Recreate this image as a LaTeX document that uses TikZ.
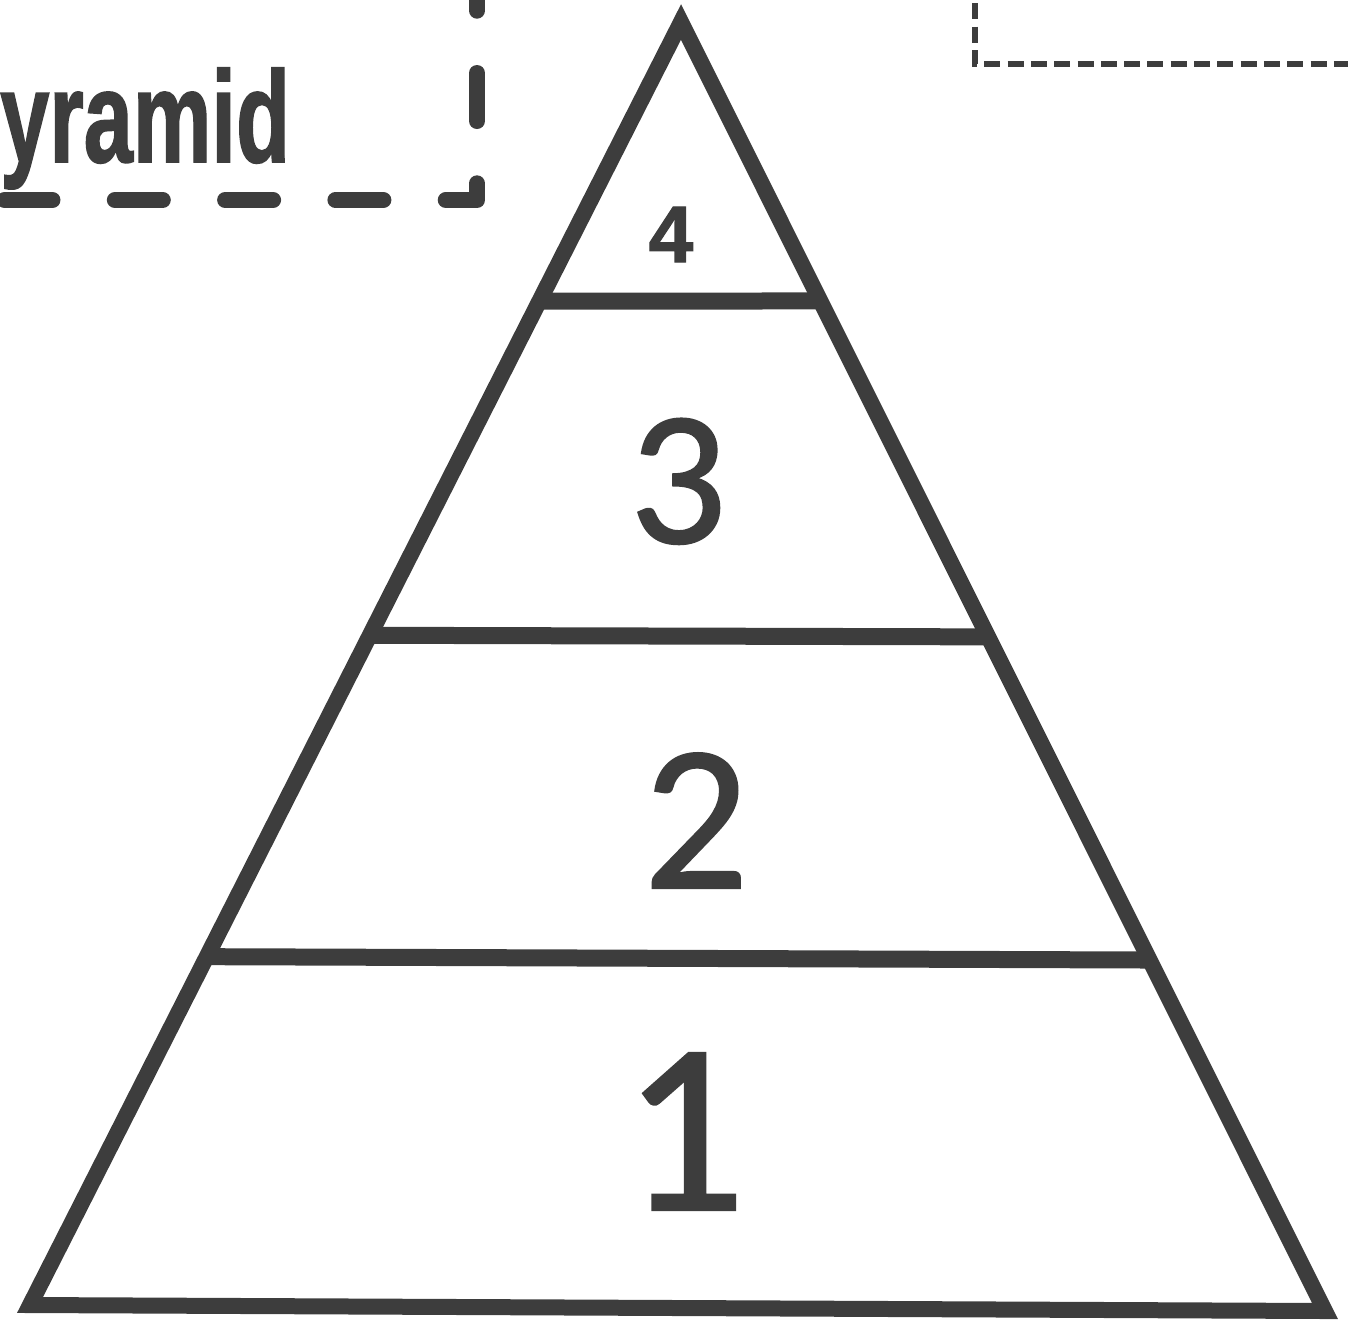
\documentclass[tikz,border=0pt]{standalone}
\usepackage{fontspec}
\setmainfont{Carlito}
\newfontfamily\titlefont{Liberation Sans}[FakeBold=1.5]
\usetikzlibrary{calc}
\definecolor{ink}{RGB}{61,61,61}

\begin{document}
\begin{tikzpicture}[
  x=1pt, y=-1pt,
  tier/.style={draw=ink, line width=16pt, line join=miter},
  divider/.style={draw=ink, line width=17pt},
  level/.style={text=ink, inner sep=0pt, anchor=base},
  titlebox/.style={draw=ink, line width=16pt, line cap=round, line join=round,
                   dash pattern=on 48pt off 62.3pt, dash phase=75.8pt},
  notebox/.style={draw=ink, line width=6pt, dash pattern=on 16pt off 7.3pt,
                  dash phase=9.9pt},
]
  \useasboundingbox (0,0) rectangle (1348,1326);
  \clip (0,0) rectangle (1348,1326);

  \coordinate (apex) at (681,22);
  \coordinate (left) at (30,1305);
  \coordinate (right) at (1325,1311);

  \draw[tier] (apex) -- (left) -- (right) -- cycle;
  \draw[divider] ($(apex)!0.2176!(left)$) -- ($(apex)!0.2164!(right)$);
  \draw[divider] ($(apex)!0.478!(left)$) -- ($(apex)!0.477!(right)$);
  \draw[divider] ($(apex)!0.7285!(left)$) -- ($(apex)!0.7277!(right)$);

  \node[level, font=\titlefont\bfseries\fontsize{80}{80}\selectfont] (tierfour) at (671,262) {4};
  \node[level, font=\fontsize{192}{192}\selectfont\addfontfeature{FakeBold=1}] (tierthree) at (678,543) {3};
  \node[level, font=\fontsize{208}{208}\selectfont\addfontfeature{FakeBold=1}] (tiertwo) at (696,888) {2};
  \node[level, font=\fontsize{244}{244}\selectfont\addfontfeature{FakeBold=1}] (tierone) at (684,1210) {1};

  \node[text=ink, inner sep=0pt, anchor=base west,
        font=\titlefont\bfseries\fontsize{130}{130}\selectfont] (title) at (0,162)
        {\scalebox{0.68}[1]{yramid}};
  \draw[titlebox] (-30,200) -- (477,200) -- (477,-30);
  \draw[notebox] (975,-10) -- (975,64) -- (1360,64);
\end{tikzpicture}
\end{document}
